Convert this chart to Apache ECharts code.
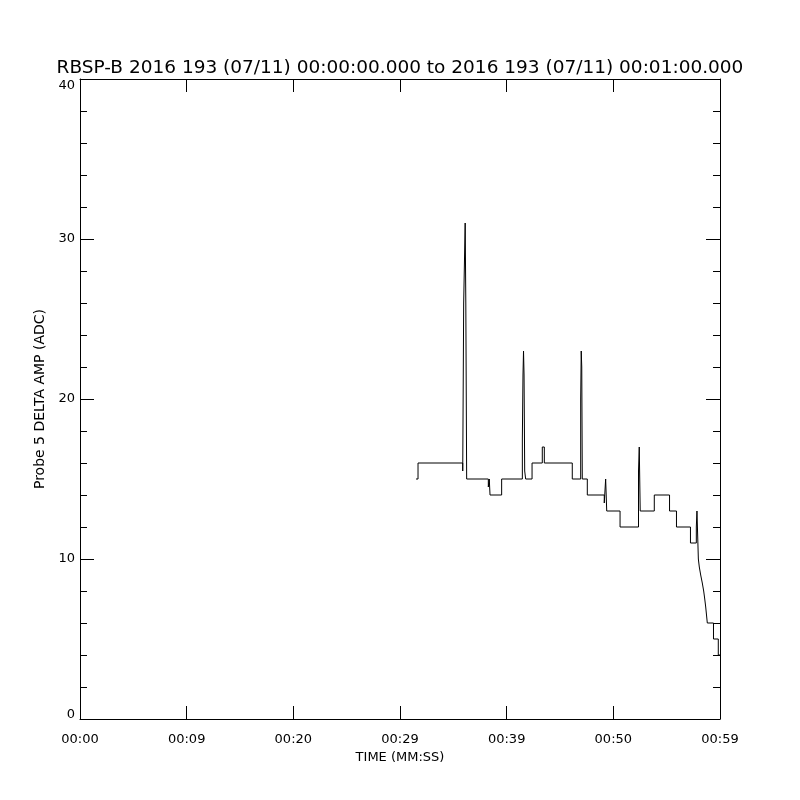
<!DOCTYPE html>
<html>
<head>
<meta charset="utf-8">
<script src="https://cdn.jsdelivr.net/npm/echarts@6/dist/echarts.min.js"></script>
<style>
  html, body { margin: 0; padding: 0; background: #fff; }
  #chart { width: 800px; height: 800px; }
</style>
</head>
<body>
<div id="chart"></div>
<script>
// 时间(秒) 与对应的 ADC 值，阶梯线：每个值保持到下一个时间点
const times = [31.50, 31.69, 35.88, 35.97, 36.11, 36.17, 36.25, 38.28, 38.37, 38.44,
  39.53, 41.47, 41.53, 41.58, 41.63, 41.69, 41.78, 42.38, 43.34, 43.53,
  46.15, 46.94, 46.99, 47.04, 47.09, 47.56, 49.15, 49.28, 49.38, 50.63,
  52.36, 52.43, 52.52, 53.84, 55.27, 55.92, 57.23, 57.78, 57.84, 57.97,
  58.06, 58.19, 58.34, 58.47, 58.57, 58.66, 58.81, 59.39, 59.84, 60.00]
const values = [15, 16, 15.5, 26, 31, 26, 15, 14.5, 15, 14,
  15, 17.5, 21.5, 23, 21.5, 15.5, 15, 16, 17, 16,
  15, 20, 23, 22, 15, 14, 13.5, 15, 13, 12,
  15.5, 17, 13, 14, 13, 12, 11, 12, 13, 10,
  9.5, 9, 8.5, 8, 7.5, 7, 6, 5, 4, 4]
const xTickLabels = ['00:00', '00:09', '00:20', '00:29', '00:39', '00:50', '00:59']
const yTickLabels = ['0', '10', '20', '30', '40']

const font = 'DejaVu Sans'
const chart = echarts.init(document.getElementById('chart'))

const frameX = (pos, showLabel) => ({
  type: 'value',
  position: pos,
  min: 0,
  max: 60,
  interval: 10,
  axisLine: { show: true, onZero: false, lineStyle: { color: '#000', width: 1 } },
  axisTick: { show: true, inside: true, length: 13, lineStyle: { color: '#000' } },
  splitLine: { show: false },
  axisLabel: {
    show: showLabel,
    margin: 14,
    color: '#000',
    fontFamily: font,
    fontSize: 13,
    formatter: v => xTickLabels[Math.round(v / 10)]
  }
})

const frameY = (pos, showLabel) => ({
  type: 'value',
  position: pos,
  min: 0,
  max: 40,
  interval: 10,
  axisLine: { show: true, onZero: false, lineStyle: { color: '#000', width: 1 } },
  axisTick: { show: true, inside: true, length: 14, lineStyle: { color: '#000' } },
  minorTick: { show: true, splitNumber: 5, length: 7, lineStyle: { color: '#000' } },
  splitLine: { show: false },
  axisLabel: {
    show: showLabel,
    margin: 5,
    color: '#000',
    fontFamily: font,
    fontSize: 13,
    formatter: v => {
      const s = yTickLabels[Math.round(v / 10)]
      if (v === 0) return '{lo|' + s + '}'
      if (v === 40) return '{hi|' + s + '}'
      return s
    },
    rich: {
      lo: { fontFamily: font, fontSize: 13, color: '#000', padding: [0, 0, 9, 0] },
      hi: { fontFamily: font, fontSize: 13, color: '#000', padding: [14, 0, 0, 0] }
    }
  }
})

const bottomX = frameX('bottom', true)
bottomX.name = 'TIME (MM:SS)'
bottomX.nameLocation = 'middle'
bottomX.nameGap = 32
bottomX.nameTextStyle = { color: '#000', fontFamily: font, fontSize: 13 }

const leftY = frameY('left', true)
leftY.name = 'Probe 5 DELTA AMP (ADC)'
leftY.nameLocation = 'middle'
leftY.nameGap = 31
leftY.nameTextStyle = { color: '#000', fontFamily: font, fontSize: 14 }

const options = {
  animation: false,
  backgroundColor: '#fff',
  title: {
    text: 'RBSP-B 2016 193 (07/11) 00:00:00.000 to 2016 193 (07/11) 00:01:00.000',
    left: 'center',
    top: 54,
    textStyle: { color: '#000', fontFamily: font, fontSize: 18.5, fontWeight: 'normal' }
  },
  grid: { left: 80, top: 79, right: 80, bottom: 81 },
  xAxis: [bottomX, frameX('top', false)],
  yAxis: [leftY, frameY('right', false)],
  series: [
    {
      type: 'line',
      step: 'end',
      showSymbol: false,
      symbol: 'none',
      data: times.map((t, i) => [t, values[i]]),
      lineStyle: { color: '#000', width: 1 }
    }
  ]
}

chart.setOption(options)
</script>
</body>
</html>
